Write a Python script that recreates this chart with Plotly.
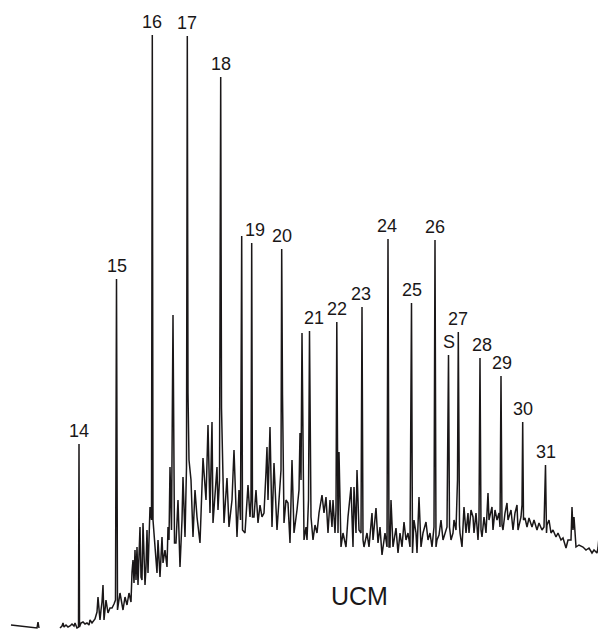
import plotly.graph_objects as go

# ---- data (retention position, detector signal) ----
stub_x = [11, 37, 38, 39]
stub_y = [4, 1, 7, 1]

trace_x = [
    60, 62, 63, 64, 66, 68, 70, 72, 74, 75, 77, 78.5, 79, 79.5, 81, 83, 85, 87, 89, 90,
    92, 93, 95, 97, 98, 99.5, 100, 101, 102, 103, 104, 106, 108, 110, 112, 114, 115.5, 116.5, 117.5, 120,
    123, 125, 127, 129, 131, 132, 133, 134, 135, 136, 137, 138, 140, 141, 142, 143, 145, 146, 147, 148,
    150, 151.5, 152.3, 153, 155, 157, 158, 160, 162, 163, 165, 167, 168, 169, 170, 171.5, 173, 174.5, 176, 178,
    180, 182, 183, 185, 186.5, 187.3, 188, 189, 191, 193, 195, 197, 200, 203, 206, 208, 210, 212, 213, 215,
    217, 218, 219.5, 220.7, 221.5, 224, 227, 229, 232, 234, 237, 239, 240.5, 241.7, 242.5, 245, 248, 250, 251, 251.7,
    252.5, 254, 256, 258, 260, 262, 264, 266, 267, 268, 270, 272, 274, 277, 279, 280, 281, 281.7, 282.5, 284,
    286, 288, 290, 292, 294, 297, 299, 300, 301, 302, 304, 306, 307, 308.5, 309.5, 311, 313, 315, 317, 319,
    322, 324, 326, 328, 330, 332, 333, 335, 336, 336.8, 338, 339, 341, 343, 346, 348, 351, 353, 354, 356,
    357, 359, 361, 362, 363, 364, 367, 369, 372, 373, 376, 378, 380, 382, 385, 387, 388, 389, 390, 391,
    393, 396, 398, 400, 402, 404, 406, 408, 410, 411.5, 412.5, 414, 416, 417, 419, 421, 423, 426, 428, 430,
    432, 434, 435, 436, 437, 439, 441, 443, 445, 447, 448.5, 449.5, 451, 453, 454, 456, 457.5, 458.3, 459.5, 460,
    462, 464, 466, 468, 469, 471, 473, 474, 476, 478, 479, 480, 481, 482, 484, 486, 488, 489, 492, 493,
    495, 497, 499, 500, 501, 502, 503, 505, 507, 508, 511, 513, 515, 517, 518, 521, 522, 522.7, 523.5, 525,
    527, 529, 532, 534, 537, 539, 542, 544, 545.5, 546.5, 547, 549, 551, 553, 556, 558, 561, 563, 566, 568,
    571, 572, 573, 574, 576, 579, 583, 586, 589, 592, 594, 597, 598, 600, 601, 603, 605, 606,
]
trace_y = [
    1, 3, 6, 2, 4, 2, 3, 5, 3, 6, 1, 2, 185, 2, 6, 7, 5, 6, 4, 9,
    6, 7, 10, 17, 32, 14, 9, 19, 27, 44, 9, 29, 16, 21, 21, 25, 29, 350, 19, 36,
    19, 32, 24, 36, 27, 57, 69, 46, 79, 49, 82, 44, 102, 52, 49, 106, 44, 62, 99, 56,
    122, 109, 594, 109, 79, 56, 89, 52, 92, 66, 79, 62, 102, 89, 162, 99, 314, 86, 86, 129,
    62, 109, 152, 92, 162, 593, 236, 169, 149, 92, 139, 112, 86, 171, 129, 204, 116, 207, 106, 139,
    162, 119, 149, 552, 221, 106, 151, 102, 129, 179, 92, 139, 109, 393, 99, 96, 144, 112, 129, 386,
    112, 112, 139, 106, 124, 112, 116, 157, 182, 129, 202, 102, 166, 99, 129, 149, 159, 380, 234, 106,
    129, 126, 86, 169, 96, 119, 139, 196, 149, 296, 89, 102, 89, 129, 298, 112, 89, 104, 96, 116,
    134, 116, 132, 96, 129, 102, 129, 96, 119, 307, 96, 177, 82, 96, 82, 112, 142, 82, 142, 96,
    159, 99, 96, 322, 89, 82, 96, 82, 116, 89, 121, 86, 102, 74, 96, 82, 390, 82, 82, 129,
    82, 101, 76, 96, 82, 107, 89, 96, 82, 326, 76, 109, 96, 76, 132, 82, 96, 107, 89, 96,
    82, 102, 389, 82, 89, 94, 109, 89, 96, 102, 274, 102, 89, 96, 109, 99, 149, 297, 104, 96,
    82, 122, 96, 116, 96, 119, 112, 96, 116, 89, 109, 271, 99, 92, 112, 96, 136, 109, 122, 99,
    119, 109, 116, 102, 253, 104, 99, 116, 126, 109, 119, 99, 116, 124, 99, 112, 124, 207, 109, 111,
    102, 111, 102, 109, 99, 106, 99, 102, 164, 96, 104, 109, 96, 99, 92, 96, 89, 91, 81, 89,
    89, 122, 99, 112, 82, 84, 82, 79, 81, 76, 79, 76, 81, 102, 76, 79, 72, 74,
]

peak_labels = ["14", "15", "16", "17", "18", "19", "20", "21", "22", "23",
               "24", "25", "26", "S", "27", "28", "29", "30", "31"]
peak_x = [79, 116.5, 152.3, 187.3, 220.7, 251.7, 281.7, 309.5, 336.8, 362,
          388, 411.5, 435, 448.5, 458.3, 480, 501, 522.7, 545.5]
peak_y = [185, 350, 594, 593, 552, 386, 380, 298, 307, 322,
          390, 326, 389, 274, 297, 271, 253, 207, 164]

hump_label = "UCM"
hump_pos = (359, 33)

# ---- styling ----
INK = "#1a1718"
FONT = "Liberation Sans, Arial, Helvetica, sans-serif"
label_xshift = {"19": 3, "21": 4.5, "28": 2, "29": 1, "23": -1, "24": -1}

fig = go.Figure()
fig.add_trace(go.Scatter(
    x=stub_x + [None] + trace_x,
    y=stub_y + [None] + trace_y,
    mode="lines",
    line=dict(color=INK, width=1.5),
    connectgaps=False,
    hoverinfo="skip",
    showlegend=False,
))

for lab, px, py in zip(peak_labels, peak_x, peak_y):
    fig.add_annotation(
        x=px, y=py, text=lab, showarrow=False,
        xanchor="center", yanchor="middle",
        xshift=label_xshift.get(lab, 0), yshift=13,
        font=dict(family=FONT, size=18, color=INK),
    )

fig.add_annotation(
    x=hump_pos[0], y=hump_pos[1], text=hump_label, showarrow=False,
    xanchor="center", yanchor="middle",
    font=dict(family=FONT, size=25, color=INK),
)

# the page body has an 8px margin, so the figure fills the rest of the window
fig.update_layout(
    width=598, height=621,
    margin=dict(l=0, r=0, t=0, b=0),
    paper_bgcolor="white", plot_bgcolor="white",
    xaxis=dict(range=[8, 606], visible=False, fixedrange=True),
    yaxis=dict(range=[0, 621], visible=False, fixedrange=True),
)

fig.write_html("out.html", config={"displayModeBar": False})
